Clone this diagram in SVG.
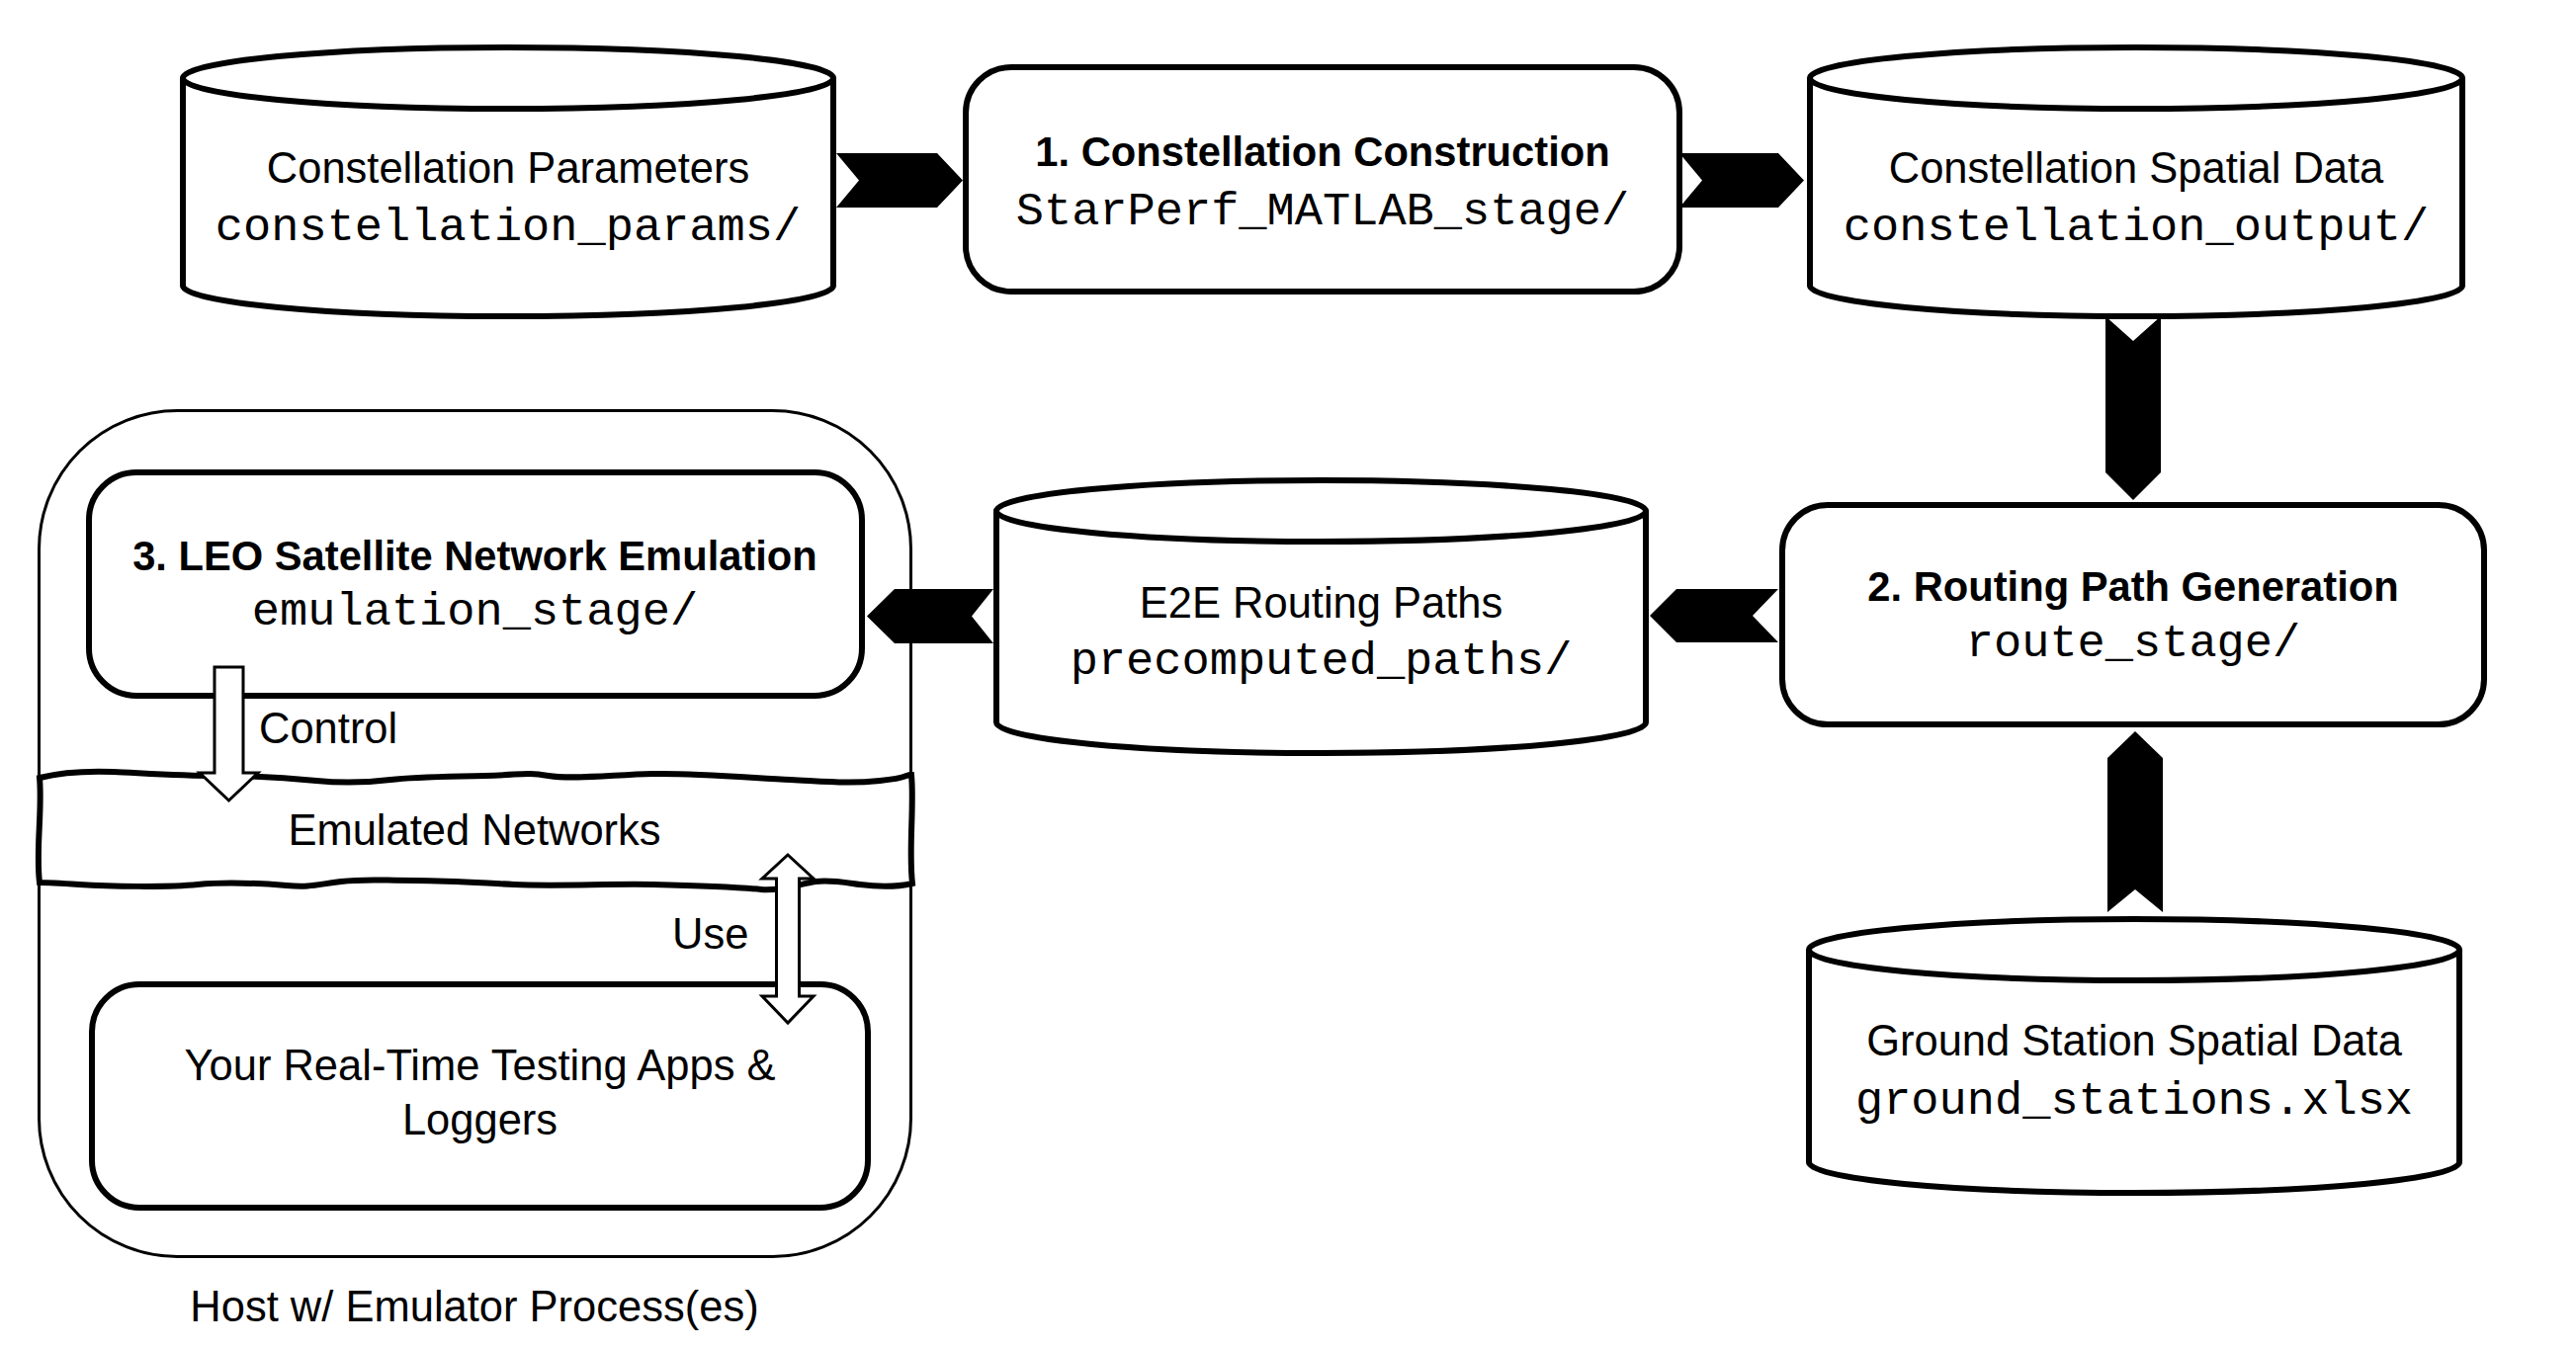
<svg xmlns="http://www.w3.org/2000/svg" width="2606" height="1364" viewBox="0 0 2606 1364">
<style>
.node{fill:#fff;stroke:#000;stroke-width:6}
.thin{fill:#fff;stroke:#000;stroke-width:3}
.t{font-family:"Liberation Sans",Arial,sans-serif;font-size:43.5px;fill:#000;text-anchor:middle}
.b{font-family:"Liberation Sans",Arial,sans-serif;font-size:41.7px;font-weight:bold;fill:#000;text-anchor:middle}
.m{font-family:"Liberation Mono","Courier New",monospace;font-size:47px;fill:#000;text-anchor:middle}
.blk{fill:#000;stroke:none}
.hol{fill:#fff;stroke:#000;stroke-width:3;stroke-linejoin:miter}
</style>
<rect width="2606" height="1364" fill="#fff"/>

<g id="host">
  <rect class="thin" x="39.5" y="415.5" width="882" height="856" rx="140" ry="140"/>
  <text class="t" x="480" y="1337">Host w/ Emulator Process(es)</text>
</g>

<g id="constellation-params">
  <path class="node" d="M185,79 A329,31 0 0 1 843,79 V289 A329,31 0 0 1 185,289 Z"/>
  <path class="node" fill="none" d="M185,79 A329,31 0 0 0 843,79"/>
  <text class="t" x="514" y="185">Constellation Parameters</text>
  <text class="m" x="514" y="243">constellation_params/</text>
</g>

<g id="stage1">
  <rect class="node" x="977" y="68" width="722" height="227" rx="46" ry="46"/>
  <text class="b" x="1338" y="168">1. Constellation Construction</text>
  <text class="m" x="1338" y="227">StarPerf_MATLAB_stage/</text>
</g>

<g id="constellation-output">
  <path class="node" d="M1831,79 A330,31 0 0 1 2491,79 V289 A330,31 0 0 1 1831,289 Z"/>
  <path class="node" fill="none" d="M1831,79 A330,31 0 0 0 2491,79"/>
  <text class="t" x="2161" y="185">Constellation Spatial Data</text>
  <text class="m" x="2161" y="243">constellation_output/</text>
</g>

<g id="stage2">
  <rect class="node" x="1803" y="511" width="710" height="222" rx="46" ry="46"/>
  <text class="b" x="2158" y="608">2. Routing Path Generation</text>
  <text class="m" x="2158" y="664">route_stage/</text>
</g>

<g id="precomputed-paths">
  <path class="node" d="M1008,517 A328.5,31 0 0 1 1665,517 V731 A328.5,31 0 0 1 1008,731 Z"/>
  <path class="node" fill="none" d="M1008,517 A328.5,31 0 0 0 1665,517"/>
  <text class="t" x="1336.5" y="625">E2E Routing Paths</text>
  <text class="m" x="1336.5" y="682">precomputed_paths/</text>
</g>

<g id="ground-stations">
  <path class="node" d="M1830,961 A329,31 0 0 1 2488,961 V1176 A329,31 0 0 1 1830,1176 Z"/>
  <path class="node" fill="none" d="M1830,961 A329,31 0 0 0 2488,961"/>
  <text class="t" x="2159" y="1068">Ground Station Spatial Data</text>
  <text class="m" x="2159" y="1127">ground_stations.xlsx</text>
</g>

<g id="stage3">
  <rect class="node" x="90" y="478" width="782" height="226" rx="48" ry="48"/>
  <text class="b" x="480.5" y="577">3. LEO Satellite Network Emulation</text>
  <text class="m" x="480.5" y="632">emulation_stage/</text>
</g>

<g id="emulated-networks">
  <path class="node" d="M40,787 C60,782 90,780 115,781 S180,785 220,785 S290,787 320,790 S370,792 395,789 S450,786 490,785 S530,781 555,785 S620,784 660,783 S760,787 800,789 S860,793 890,790 S915,784 922,784 C925,815 919,860 923,894 C905,898 885,897 870,895 S840,890 825,892 S790,902 770,900 S700,896 660,895 S560,897 520,895 S455,891 420,891 S370,889 345,892 S315,898 290,896 S230,892 200,895 S110,897 80,895 S50,893 40,893 C36,860 43,820 40,787 Z"/>
  <text class="t" x="480" y="855">Emulated Networks</text>
</g>

<g id="apps">
  <rect class="node" x="93" y="996" width="785" height="226" rx="48" ry="48"/>
  <text class="t" x="485.5" y="1093">Your Real-Time Testing Apps &amp;</text>
  <text class="t" x="485.5" y="1148">Loggers</text>
</g>

<g id="connectors">
  <polygon class="blk" points="846,155 948,155 974,182.5 948,210 846,210 869,182.5"/>
  <polygon class="blk" points="1699,155 1799,155 1825,182.5 1799,210 1699,210 1722,182.5"/>
  <polygon class="blk" points="2130,320 2158,345 2186,320 2186,478 2158,506 2130,478"/>
  <polygon class="blk" points="2132,923 2160,900 2188,923 2188,767 2160,740 2132,767"/>
  <polygon class="blk" points="1799,596 1696,596 1669,623 1696,650 1799,650 1773,623"/>
  <polygon class="blk" points="1005,596 905,596 877,623.5 905,651 1005,651 983,623.5"/>
  <path class="hol" d="M217,675 H246 V782 H261 L231.5,810 L202,782 H217 Z"/>
  <text class="t" x="262" y="752" style="text-anchor:start">Control</text>
  <path class="hol" d="M797,865 L823,889 H808.5 V1008 H823 L797,1035 L771,1008 H785.5 V889 H771 Z"/>
  <text class="t" x="680" y="960" style="text-anchor:start">Use</text>
</g>
</svg>
